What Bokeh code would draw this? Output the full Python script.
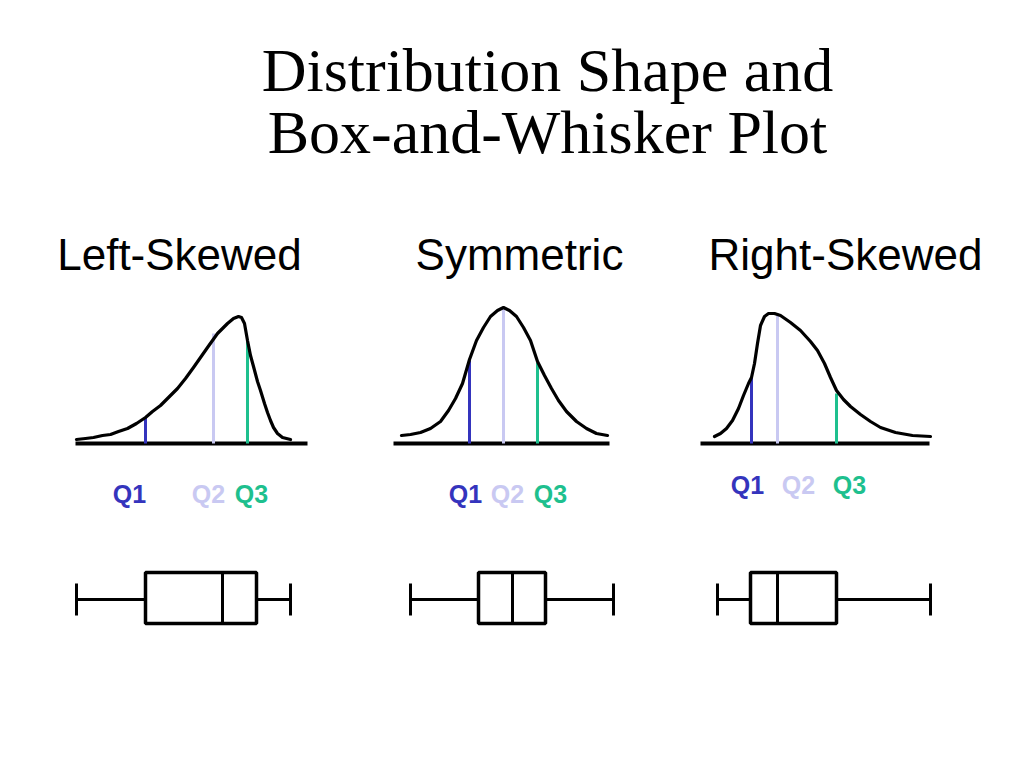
from bokeh.plotting import figure
from bokeh.models import Range1d
from bokeh.core.properties import value
from bokeh.embed import file_html
from bokeh.resources import INLINE

# ---------------- data ----------------
title_lines = ["Distribution Shape and", "Box-and-Whisker Plot"]
panel_names = ["Left-Skewed", "Symmetric", "Right-Skewed"]
quartile_names = ["Q1", "Q2", "Q3"]

# density curves (x position, curve height above the baseline)
left_curve_x = [76, 85, 93, 102, 110, 118, 127, 136, 145, 152, 160, 168, 177, 185,
                193, 200, 207, 212, 217, 222, 227, 233, 238, 241, 244, 247, 250,
                253, 257, 260, 264, 267, 270, 273, 277, 282, 290]
left_curve_h = [4, 5, 6, 8, 9, 12, 15, 20, 26, 32, 38, 46, 55, 65,
                76, 86, 96, 103, 110, 115, 120, 125, 127, 126, 120, 103, 88,
                77, 62, 53, 40, 31, 23, 16, 10, 6, 4]
mid_curve_x = [401, 410, 420, 430, 440, 448, 455, 462, 469, 476, 483, 490, 497, 503,
               509, 516, 523, 530, 537, 544, 551, 558, 566, 576, 586, 596, 607]
mid_curve_h = [8, 9, 11, 15, 22, 33, 45, 60, 84, 103, 116, 127, 133, 136,
               133, 127, 116, 103, 82, 68, 55, 43, 32, 22, 15, 10, 8]
right_curve_x = [714, 720, 726, 732, 738, 743, 748, 751, 754, 757, 760, 764, 768,
                 774, 780, 790, 800, 810, 817, 824, 830, 836, 843, 850, 860, 870,
                 880, 895, 912, 930]
right_curve_h = [7, 10, 15, 23, 35, 48, 60, 66, 80, 100, 118, 127, 130,
                 130, 128, 121, 113, 102, 93, 80, 66, 53, 44, 37, 29, 22,
                 16, 11, 8, 7]

# quartile marker lines (x position, height) per panel
quartile_x = [[145, 213, 247], [469, 503, 537], [751, 777, 836]]
quartile_h = [[26, 110, 102], [83, 136, 81], [66, 128, 50]]

# box-and-whisker five-number summaries (in x position)
box_min = [76, 410, 717]
box_q1 = [145, 478, 750]
box_med = [222, 512, 777]
box_q3 = [256, 545, 836]
box_max = [290, 613, 930]

# ---------------- layout / style ----------------
quartile_colors = ["#3434bd", "#c9c9f2", "#1ec08e"]
panel_centers = [179, 519, 845]
baseline_x0 = [75, 393, 700]
baseline_x1 = [307, 609, 929]
baseline_y = 443
label_x = [[129, 208, 251], [465, 507, 550], [747, 798, 849]]
label_y = [493, 493, 484]
box_top, box_bottom, whisk_y, cap_top, cap_bottom = 572, 623, 599, 583, 615

p = figure(width=1008, height=752, output_backend="svg", toolbar_location=None,
           x_range=Range1d(0, 1008), y_range=Range1d(752, 0),
           x_axis_location=None, y_axis_location=None, min_border=0)
p.grid.visible = False
p.outline_line_color = None
p.background_fill_color = "white"
p.border_fill_color = "white"

# title
p.text(x=[547, 547], y=[69, 131], text=title_lines, text_align="center",
       text_baseline="alphabetic", text_font=value("Liberation Serif"),
       text_font_size="62px", text_color="black")

# panel headings
p.text(x=panel_centers, y=[254] * 3, text=panel_names, text_align="center",
       text_baseline="alphabetic", text_font=value("Liberation Sans"),
       text_font_size="44px", text_color="black")

curves = [(left_curve_x, left_curve_h), (mid_curve_x, mid_curve_h),
          (right_curve_x, right_curve_h)]

for i in range(3):
    # baseline
    p.line([baseline_x0[i], baseline_x1[i]], [baseline_y, baseline_y],
           line_color="black", line_width=4)
    # quartile lines
    for j in range(3):
        p.segment(x0=[quartile_x[i][j]], y0=[baseline_y], x1=[quartile_x[i][j]],
                  y1=[baseline_y - quartile_h[i][j]],
                  line_color=quartile_colors[j], line_width=3)
    # curve
    cx, ch = curves[i]
    p.line(cx, [baseline_y - h for h in ch], line_color="black", line_width=3.2,
           line_join="round", line_cap="round")
    # quartile labels
    for j in range(3):
        p.text(x=[label_x[i][j]], y=[label_y[i]], text=[quartile_names[j]],
               text_align="center", text_baseline="alphabetic",
               text_font=value("Liberation Sans"), text_font_style="bold",
               text_font_size="25px", text_color=quartile_colors[j])
    # box plot
    p.segment(x0=[box_min[i], box_q3[i]], y0=[whisk_y, whisk_y],
              x1=[box_q1[i], box_max[i]], y1=[whisk_y, whisk_y],
              line_color="black", line_width=3)
    p.segment(x0=[box_min[i], box_max[i]], y0=[cap_top, cap_top],
              x1=[box_min[i], box_max[i]], y1=[cap_bottom, cap_bottom],
              line_color="black", line_width=3)
    p.quad(left=[box_q1[i]], right=[box_q3[i]], top=[box_top], bottom=[box_bottom],
           fill_color="white", line_color="black", line_width=3.5)
    p.segment(x0=[box_med[i]], y0=[box_top], x1=[box_med[i]], y1=[box_bottom],
              line_color="black", line_width=3)

open("out.html", "w").write(file_html(p, INLINE))
